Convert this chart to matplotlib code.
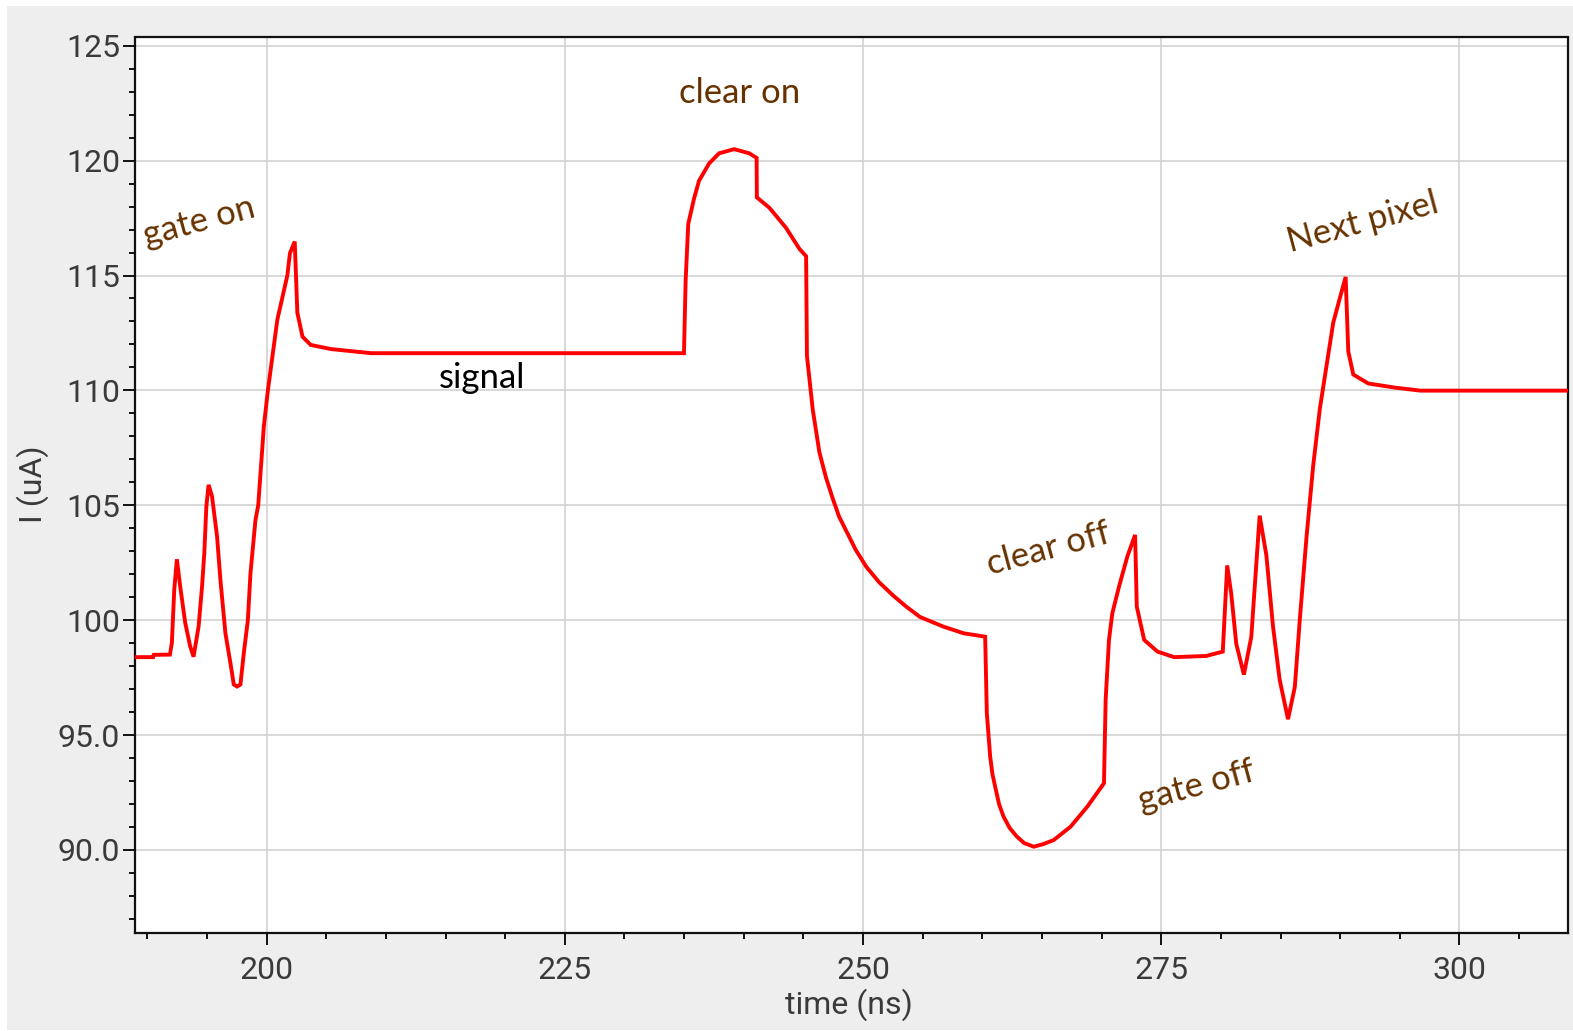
import matplotlib
matplotlib.use("Agg")
import matplotlib.pyplot as plt
from matplotlib.patches import Rectangle
from matplotlib.ticker import MultipleLocator

# ---- data ----
time_ns = [188.97, 190.49, 190.55, 191.90, 192.06, 192.26, 192.48, 192.76, 193.18, 193.60,
           193.88, 194.30, 194.59, 194.78, 194.95, 195.14, 195.43, 195.85, 196.13, 196.55,
           196.97, 197.25, 197.53, 197.81, 198.09, 198.43, 198.65, 199.07, 199.30, 199.77,
           200.11, 200.90, 201.74, 201.96, 202.36, 202.58, 203.01, 203.70, 205.39, 208.19,
           208.75, 234.99, 235.13, 235.35, 235.83, 236.25, 237.10, 237.94, 239.20, 240.46,
           241.08, 241.10, 242.15, 243.54, 244.67, 245.23, 245.30, 245.79, 246.35, 246.90,
           247.47, 248.00, 248.59, 249.40, 250.28, 251.35, 252.53, 253.60, 254.77, 256.73,
           258.42, 260.24, 260.38, 260.66, 260.85, 261.08, 261.40, 261.78, 262.30, 262.90,
           263.50, 264.31, 265.10, 265.99, 267.40, 268.80, 270.20, 270.34, 270.62, 270.90,
           271.46, 272.16, 272.81, 272.95, 273.57, 274.69, 276.09, 278.76, 280.16, 280.53,
           280.87, 281.29, 281.93, 282.55, 283.25, 283.81, 284.37, 284.93, 285.63, 286.20,
           286.62, 287.18, 287.74, 288.30, 288.86, 289.42, 289.98, 290.46, 290.68, 291.10,
           292.36, 294.61, 296.72, 309.50]
current_uA = [98.39, 98.39, 98.49, 98.50, 99.01, 101.32, 102.65, 101.46, 99.88, 98.85,
              98.41, 99.72, 101.46, 102.91, 104.94, 105.89, 105.38, 103.64, 101.75, 99.43,
              98.13, 97.20, 97.11, 97.20, 98.56, 100.00, 102.04, 104.36, 105.00, 108.43,
              110.00, 113.07, 115.00, 115.97, 116.48, 113.38, 112.34, 111.98, 111.80, 111.65,
              111.62, 111.62, 114.77, 117.25, 118.34, 119.12, 119.88, 120.32, 120.50, 120.32,
              120.12, 118.40, 117.95, 117.08, 116.16, 115.84, 111.50, 109.15, 107.29, 106.20,
              105.28, 104.50, 103.89, 103.05, 102.32, 101.65, 101.07, 100.60, 100.14, 99.72,
              99.43, 99.28, 95.95, 94.06, 93.30, 92.75, 92.00, 91.45, 90.95, 90.58,
              90.30, 90.14, 90.25, 90.43, 91.01, 91.88, 92.90, 96.53, 99.14, 100.30,
              101.46, 102.77, 103.71, 100.59, 99.14, 98.63, 98.39, 98.44, 98.63, 102.38,
              101.14, 98.97, 97.63, 99.27, 104.55, 102.84, 99.73, 97.40, 95.69, 97.09,
              100.05, 103.62, 106.73, 109.21, 111.08, 112.95, 114.03, 114.94, 111.70, 110.69,
              110.30, 110.12, 109.99, 109.99]

x_ticks = [200, 225, 250, 275, 300]
x_tick_labels = ["200", "225", "250", "275", "300"]
y_ticks = [90, 95, 100, 105, 110, 115, 120, 125]
y_tick_labels = ["90.0", "95.0", "100", "105", "110", "115", "120", "125"]

annotations = [
    ("gate on", 194.36, 117.34, 15, "#663300"),
    ("clear on", 239.65, 122.95, 0, "#663300"),
    ("signal", 218.10, 110.55, 0, "black"),
    ("clear off", 265.57, 103.10, 15, "#663300"),
    ("gate off", 277.95, 92.78, 15, "#663300"),
    ("Next pixel", 291.92, 117.29, 15, "#663300"),
]

# ---- figure ----
W, H = 1573, 1031
fig = plt.figure(figsize=(W / 100, H / 100), dpi=100, facecolor="white")
fig.patches.append(Rectangle((7 / W, 1 / H), 1.0, (H - 7) / H, transform=fig.transFigure,
                             facecolor="#eeeeee", edgecolor="none", zorder=-10))

ax = fig.add_axes([135 / W, (H - 933.3) / H, (1568 - 135) / W, (933.3 - 37.5) / H])
ax.set_facecolor("white")

ax.plot(time_ns, current_uA, color="#ff0000", lw=2.8, solid_joinstyle="miter", zorder=3)

ax.set_xlim(188.97, 309.1)
ax.set_ylim(86.37, 125.36)

tick_font = dict(family=["Roboto", "DejaVu Sans"], size=23, color="#3a3a3a", weight="normal")
ax.set_xticks(x_ticks, x_tick_labels, **tick_font)
ax.set_yticks(y_ticks, y_tick_labels, **tick_font)
ax.xaxis.set_minor_locator(MultipleLocator(5))
ax.yaxis.set_minor_locator(MultipleLocator(1))

ax.tick_params(which="major", direction="out", length=8.6, width=1.4, color="#111111")
ax.tick_params(which="minor", direction="out", length=4.3, width=1.4, color="#111111")
ax.tick_params(axis="x", which="major", pad=8)
ax.tick_params(axis="y", which="major", pad=2)

ax.grid(True, which="major", color="#d2d2d2", lw=1.2, zorder=0)
ax.set_axisbelow(True)
for s in ax.spines.values():
    s.set_linewidth(1.6)
    s.set_color("#111111")

label_font = dict(family=["Roboto", "DejaVu Sans"], size=23, color="#3a3a3a", weight="normal")
ax.set_xlabel("time (ns)", **label_font)
ax.set_ylabel("I (uA)", **label_font)
ax.xaxis.set_label_coords(0.4983, -0.080)
ax.xaxis.label.set_va("center")
ax.yaxis.set_label_coords(-0.0712, 0.5016)
ax.yaxis.label.set_va("center")

for txt, x, y, rot, col in annotations:
    ax.text(x, y, txt, rotation=rot, ha="center", va="center", color=col,
            fontsize=25, family=["Lato", "DejaVu Sans"], zorder=4)

fig.savefig("out.png", dpi=100, facecolor=fig.get_facecolor())
